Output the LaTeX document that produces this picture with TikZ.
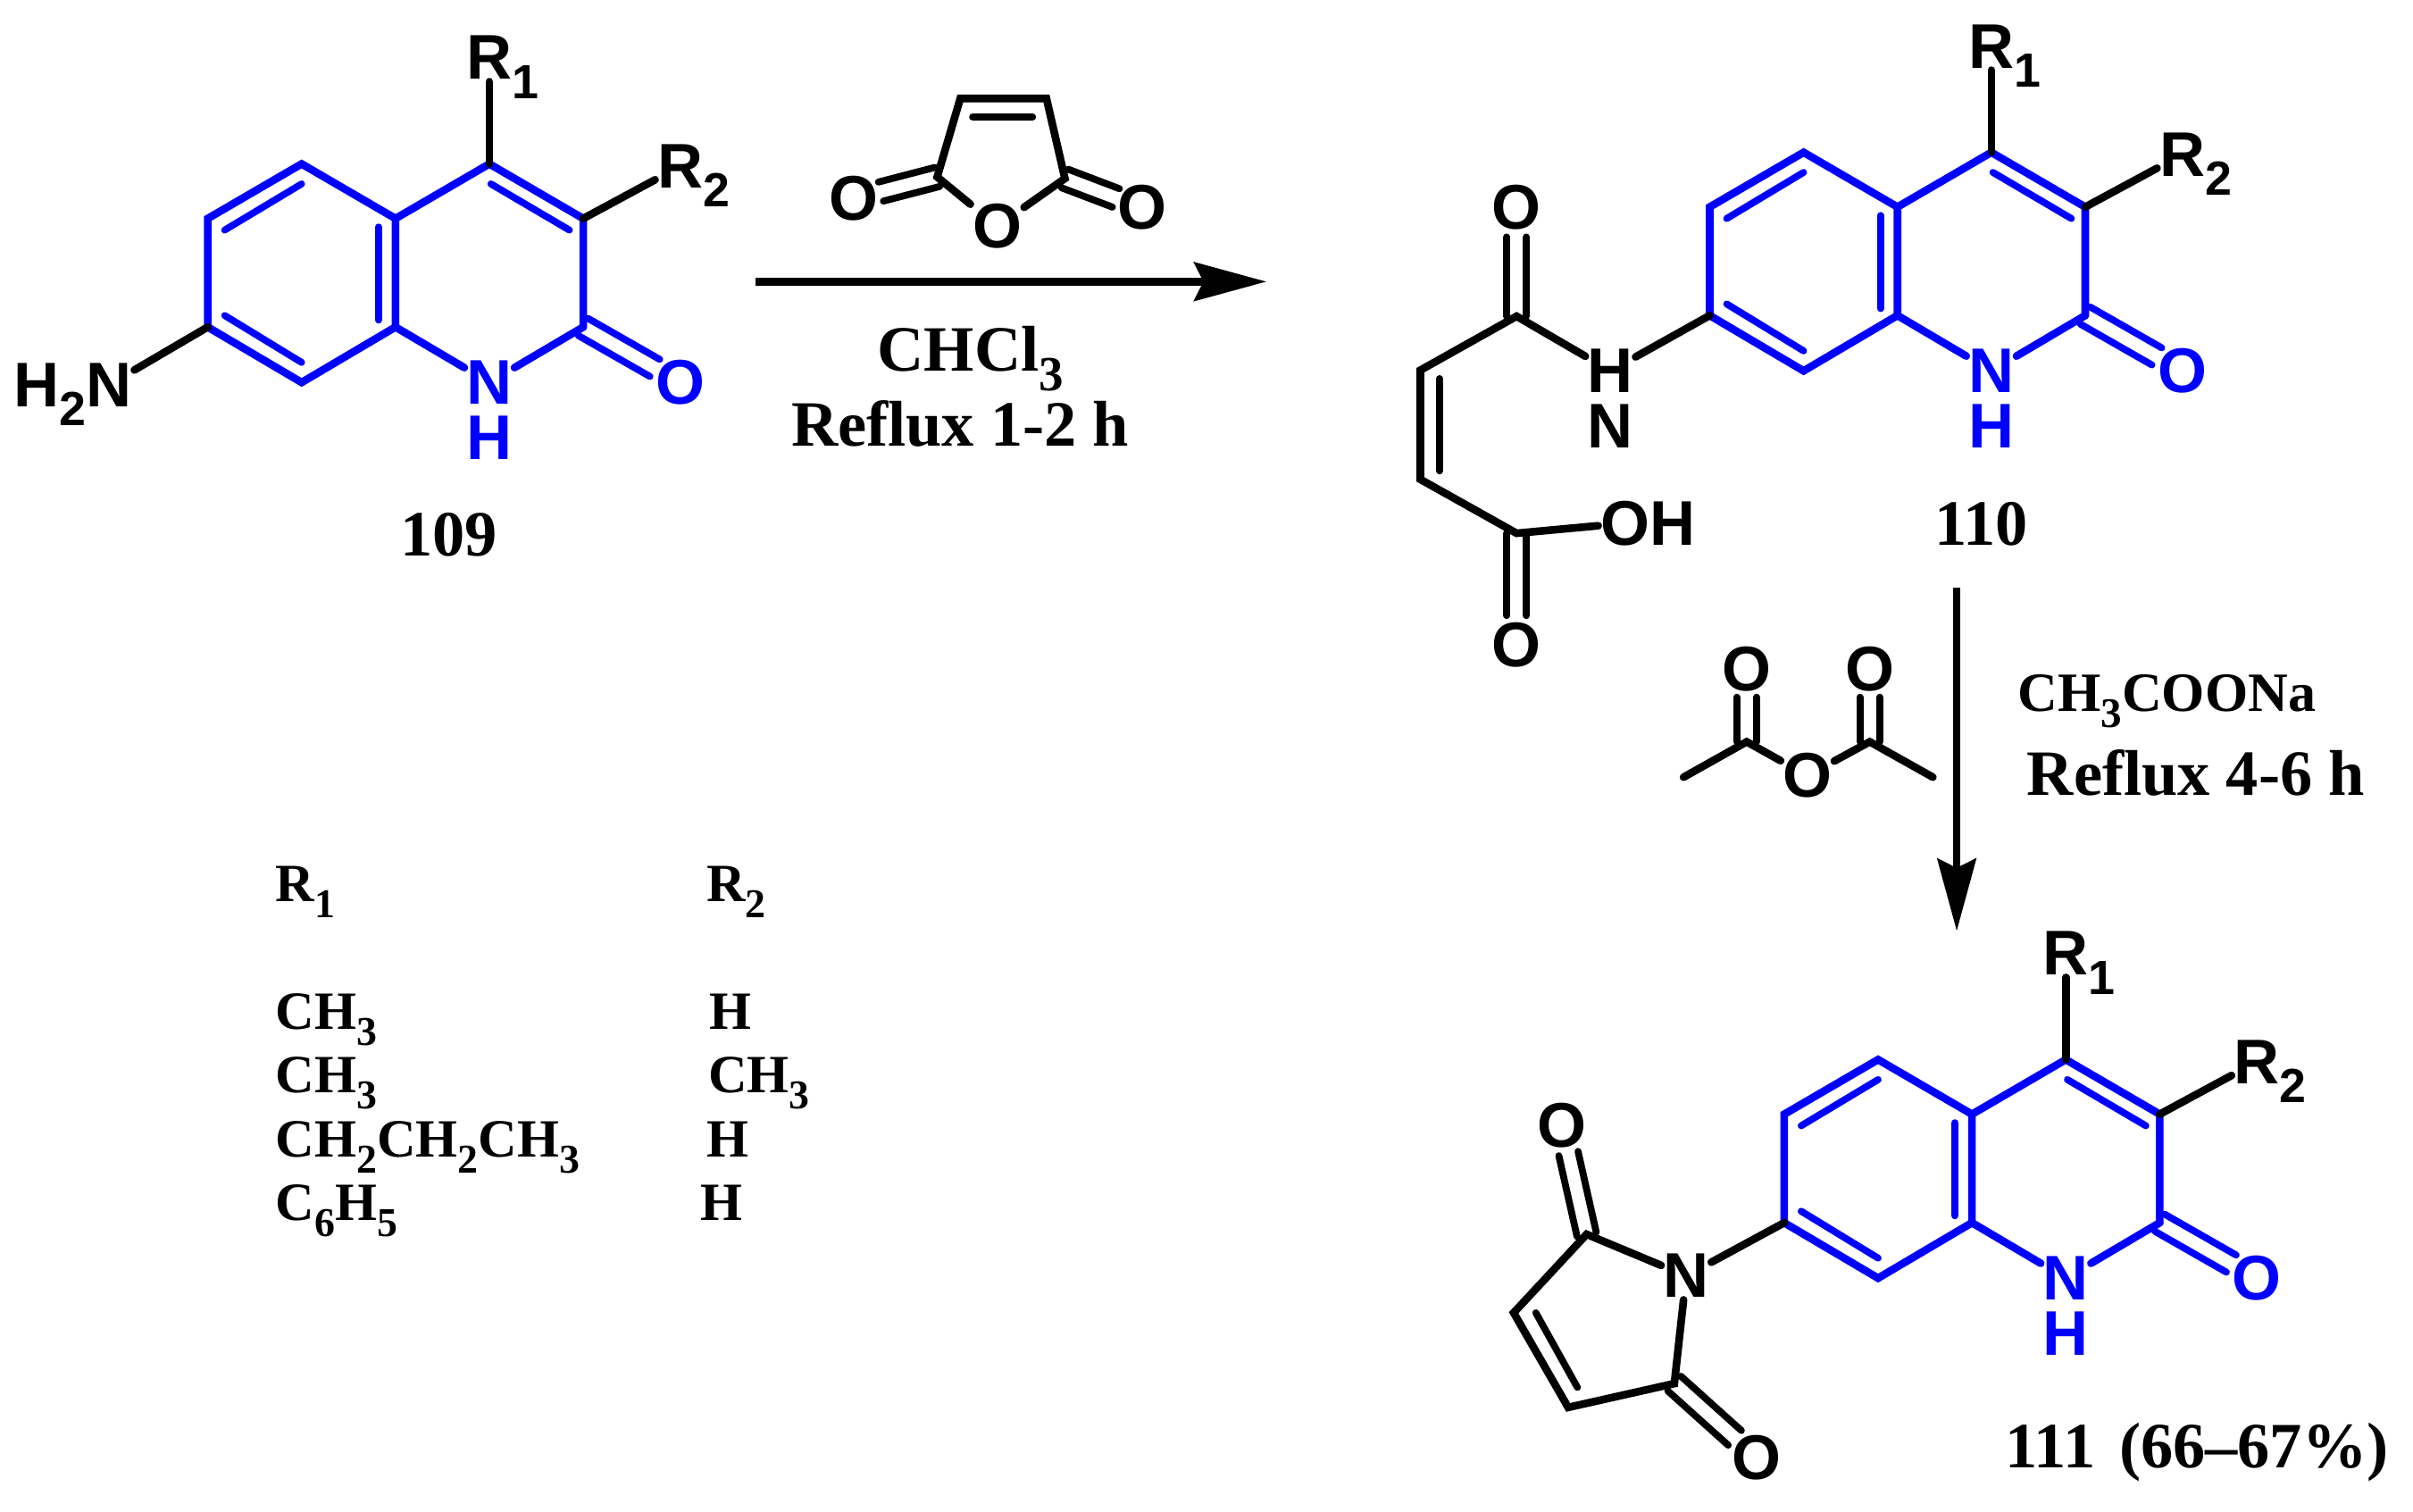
\documentclass[tikz,border=0pt]{standalone}
\usepackage{fontspec}
\setmainfont{Liberation Serif}
\newfontfamily\atomfont{Liberation Sans}
\usetikzlibrary{calc,arrows.meta}
\definecolor{ringblue}{RGB}{0,0,255}
\newcommand\tsub[1]{\smash{\raisebox{-.3em}{\scalebox{.76}{#1}}}}
\tikzset{
  bond/.style={line width=5pt,line cap=round,line join=miter,miter limit=3},
  inner/.style={line width=4.5pt,line cap=round},
  atom/.style={font=\atomfont\bfseries\fontsize{41}{43}\selectfont,inner sep=1.5pt,outer sep=0pt},
  lab/.style={font=\bfseries\fontsize{42}{44}\selectfont,anchor=base west,inner sep=0pt},
  tab/.style={font=\bfseries\fontsize{35}{38}\selectfont,anchor=base west,inner sep=0pt},
  rarrow/.style={line width=5pt,-{Stealth[length=47pt,width=25pt,inset=6pt]}}
}
% two parallel lines from atom #2 towards atom #3
\newcommand\dbl[4][black]{%
  \draw[inner,#1,shorten >=#4] ($(#2)!6.4pt!90:(#3)$) -- ($(#3)!6.4pt!-90:(#2)$);
  \draw[inner,#1,shorten >=#4] ($(#2)!6.4pt!-90:(#3)$) -- ($(#3)!6.4pt!90:(#2)$);}
% quinolin-2-one core; #1 name prefix, #2,#3 position of C4
\newcommand\quin[3]{%
\begin{scope}[shift={(#2,#3)}]
  \coordinate (#1c4) at (0,0);
  \coordinate (#1c3) at (61,35.5);
  \coordinate (#1c2) at (61,106);
  \coordinate (#1c8a) at (-61,106);
  \coordinate (#1c4a) at (-61,35.5);
  \coordinate (#1c5) at (-122,0);
  \coordinate (#1c6) at (-183,35.5);
  \coordinate (#1c7) at (-183,106);
  \coordinate (#1c8) at (-122,142);
  \coordinate (#1i5) at (-122,13);
  \coordinate (#1i6) at (-172,43);
  \coordinate (#1i7) at (-172,98.5);
  \coordinate (#1i8) at (-122,129);
  \coordinate (#1ia) at (-72,41);
  \coordinate (#1ib) at (-72,101.5);
  \coordinate (#1i4) at (1,13);
  \coordinate (#1i3) at (52,43);
  \node[atom,text=ringblue] (#1n) at (0,142) {N};
  \node[atom,text=ringblue] (#1h) at (0,178) {H};
  \node[atom,text=ringblue] (#1o) at (124,142) {O};
  \node[atom] (#1r1) at (0,-69) {R\rlap{\tsub{1}}};
  \node[atom] (#1r2) at (124,1.5) {R\rlap{\tsub{2}}};
\end{scope}
\draw[bond,ringblue] (#1c8a) -- (#1c4a) -- (#1c5) -- (#1c6) -- (#1c7) -- (#1c8) -- cycle;
\draw[bond,ringblue] (#1c4a) -- (#1c4) -- (#1c3) -- (#1c2);
\draw[bond,ringblue] (#1c2) -- (#1n);
\draw[bond,ringblue] (#1c8a) -- (#1n);
\draw[inner,ringblue] (#1i5) -- (#1i6);
\draw[inner,ringblue] (#1i7) -- (#1i8);
\draw[inner,ringblue] (#1ia) -- (#1ib);
\draw[inner,ringblue] (#1i4) -- (#1i3);
\dbl[ringblue]{#1c2}{#1o}{19pt}
\draw[bond] (#1c4) -- (#1r1);
\draw[bond] (#1c3) -- (#1r2);
}
\begin{document}
\begin{tikzpicture}[x=1pt,y=-1pt]
\fill[white] (0,0) rectangle (1568,982);
\useasboundingbox (0,0) rectangle (1568,982);

% --- 109
\quin{a}{318}{106.5}
\node[atom] (anh) at (71,250) {\llap{H\tsub{2}}N};
\draw[bond] (ac7) -- (anh);
\node[lab] (l109) at (260,361) {109};

% --- maleic anhydride
\coordinate (mt1) at (624,64);
\coordinate (mt2) at (680,64);
\coordinate (mi1) at (632,76);
\coordinate (mi2) at (671,76);
\coordinate (mc1) at (609,115);
\coordinate (mc2) at (692,116);
\node[atom] (mo) at (648,147) {O};
\node[atom] (mol) at (555,129) {O};
\node[atom] (mor) at (742,135) {O};
\draw[bond] (mo) -- (mc1) -- (mt1) -- (mt2) -- (mc2) -- (mo);
\draw[inner] (mi1) -- (mi2);
\dbl{mc1}{mol}{18pt}
\dbl{mc2}{mor}{18pt}

% --- arrow 1
\coordinate (a1s) at (491,183);
\coordinate (a1e) at (823,183);
\draw[rarrow] (a1s) -- (a1e);
\node[lab] (chcl) at (570,241) {CHCl\tsub{3}};
\node[lab] (rf1) at (514,290) {Reflux 1-2 h};

% --- 110
\quin{b}{1294}{99}
\coordinate (bca) at (985.5,205.5);
\coordinate (bcb) at (923,240.5);
\coordinate (bcc) at (923,311.5);
\coordinate (bcd) at (985.5,346.5);
\coordinate (bi1) at (935.5,246);
\coordinate (bi2) at (935.5,306);
\node[atom] (bo1) at (985.5,135) {O};
\node[atom] (bo2) at (985.5,419) {O};
\node[atom] (bhh) at (1046.5,241) {H};
\node[atom] (bnn) at (1046.5,277) {N};
\node[atom] (boh) at (1056,340) {O\rlap{H}};
\draw[bond] (bhh) -- (bca) -- (bcb) -- (bcc) -- (bcd) -- (boh);
\draw[bond] (bc7) -- (bhh);
\draw[inner] (bi1) -- (bi2);
\dbl{bca}{bo1}{19pt}
\dbl{bcd}{bo2}{19pt}
\node[lab] (l110) at (1257,354) {110};

% --- arrow 2 and reagents
\coordinate (a2s) at (1271.5,382);
\coordinate (a2e) at (1271.5,605);
\draw[rarrow] (a2s) -- (a2e);
\coordinate (acm1) at (1094,505);
\coordinate (acc1) at (1135,482);
\coordinate (acc2) at (1215,482);
\coordinate (acm2) at (1256,505);
\node[atom] (aco) at (1174.5,504) {O};
\node[atom] (aco1) at (1135,435) {O};
\node[atom] (aco2) at (1215,435) {O};
\draw[bond] (acm1) -- (acc1) -- (aco) -- (acc2) -- (acm2);
\dbl{acc1}{aco1}{18pt}
\dbl{acc2}{aco2}{18pt}
\node[lab,font=\bfseries\fontsize{36}{38}\selectfont] (naoac) at (1311,462) {CH\tsub{3}COONa};
\node[lab] (rf2) at (1317,517) {Reflux 4-6 h};

% --- 111
\quin{c}{1342.4}{688.5}
\node[atom] (cnn) at (1095.7,829) {N};
\coordinate (cm1) at (1031,802);
\coordinate (cm2) at (983.6,853);
\coordinate (cm3) at (1019,914.5);
\coordinate (cm4) at (1088,899);
\coordinate (ci1) at (998,853);
\coordinate (ci2) at (1025,901.5);
\node[atom] (co1) at (1015,731) {O};
\node[atom] (co2) at (1141.4,947) {O};
\draw[bond] (cnn) -- (cm1) -- (cm2) -- (cm3) -- (cm4) -- (cnn);
\draw[bond] (cc7) -- (cnn);
\draw[inner] (ci1) -- (ci2);
\dbl{cm1}{co1}{19pt}
\dbl{cm4}{co2}{19pt}
\node[lab] (l111) at (1303,954) {111\hspace{.12em} (66–67\%)};

% --- table
\node[tab] (t1) at (179,586) {R\tsub{1}};
\node[tab] (t2) at (459,586) {R\tsub{2}};
\node[tab] (t3) at (179,669) {CH\tsub{3}};
\node[tab] (t4) at (461,669) {H};
\node[tab] (t5) at (179,710) {CH\tsub{3}};
\node[tab] (t6) at (460,710) {CH\tsub{3}};
\node[tab] (t7) at (179,752) {CH\tsub{2}CH\tsub{2}CH\tsub{3}};
\node[tab] (t8) at (459,752) {H};
\node[tab] (t9) at (179,793) {C\tsub{6}H\tsub{5}};
\node[tab] (t10) at (455,793) {H};
\end{tikzpicture}
\end{document}
